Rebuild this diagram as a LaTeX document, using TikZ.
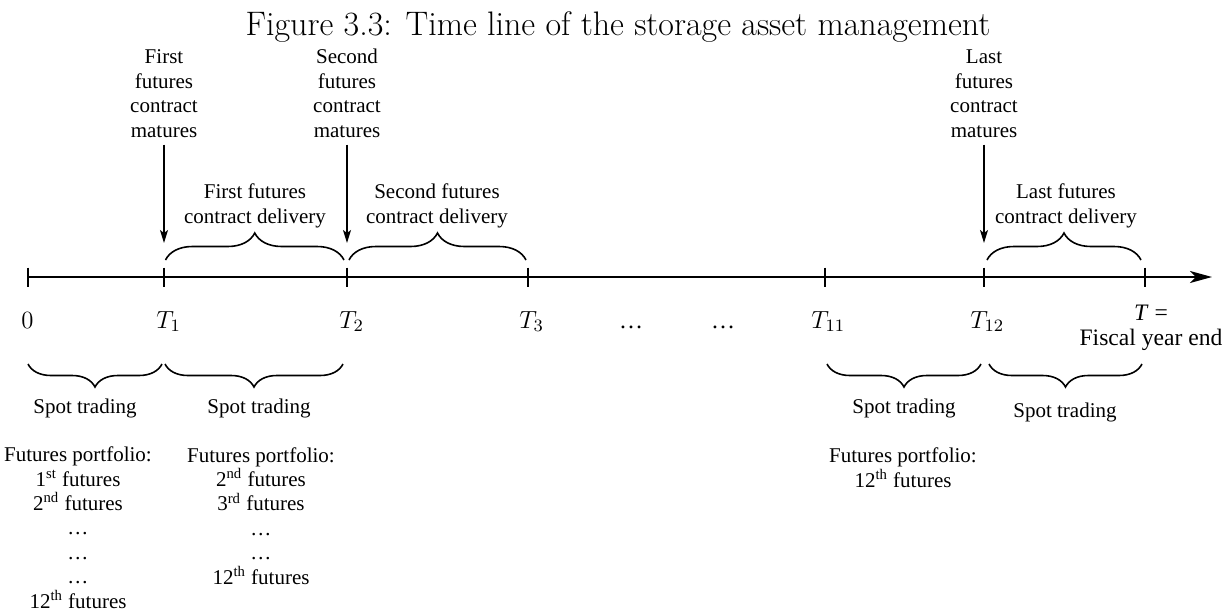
\RequirePackage{fix-cm}
\documentclass[tikz,border=0pt]{standalone}
\usepackage{fontspec}
\newfontfamily\tnr{Liberation Serif}
\usetikzlibrary{arrows.meta,decorations.pathreplacing}

\begin{document}
\begin{tikzpicture}[x=0.5pt,y=-0.5pt,
  every node/.style={inner sep=0pt},
  % multi-line nodes: the base anchor sits on the last line
  body/.style={font=\tnr\fontsize{10.5}{12.2}\selectfont, align=center, anchor=base},
  matlbl/.style={body, inner ysep=3.5pt},
  axlbl/.style={font=\fontsize{12.4}{14}\selectfont, anchor=base west},
  big/.style={font=\tnr\fontsize{12}{12.5}\selectfont, align=center, anchor=base},
  axisline/.style={line width=1pt, -{Stealth[length=11pt,width=6pt,inset=3pt]}},
  tickmark/.style={line width=1pt},
  matarrow/.style={line width=0.75pt, -{Stealth[length=6.5pt,width=4pt,inset=1.5pt]}},
  bracetop/.style={decorate, decoration={brace, amplitude=13.5pt}, line width=0.8pt},
  bracebot/.style={decorate, decoration={brace, amplitude=11.5pt, mirror}, line width=0.8pt},
]
\useasboundingbox (0,0) rectangle (1223,611);

% caption
\node[font=\fontsize{17}{20}\selectfont, anchor=base] (title) at (618,35)
  {Figure 3.3: Time line of the storage asset management};

% time axis and its ticks
\coordinate (t0)  at (27.5,277);
\coordinate (t1)  at (164,277);
\coordinate (t2)  at (347,277);
\coordinate (t3)  at (528,277);
\coordinate (t11) at (825,277);
\coordinate (t12) at (984,277);
\coordinate (tT)  at (1145,277);
\coordinate (tend) at (1212,277);
\draw[axisline] (t0) -- (tend);
\foreach \c in {t0,t1,t2,t3,t11,t12,tT}
  \draw[tickmark] ([yshift=4.75pt]\c) -- ([yshift=-4.75pt]\c);

% axis labels
\node[axlbl, anchor=base] (l0) at (27.5,328) {$0$};
\node[axlbl] (l1)  at (156,328) {$T_1$};
\node[axlbl] (l2)  at (339,328) {$T_2$};
\node[axlbl] (l3)  at (519,328) {$T_3$};
\node[big] (e1) at (631,328) {…};
\node[big] (e2) at (723,328) {…};
\node[axlbl] (l11) at (811,328) {$T_{11}$};
\node[axlbl] (l12) at (970,328) {$T_{12}$};
\node[big, font=\tnr\fontsize{11.8}{12.5}\selectfont] (lT) at (1151,345) {\textit{T} =\\Fiscal year end};

% maturity labels and arrows
\node[matlbl] (m1) at (164,137) {First\\futures\\contract\\matures};
\node[matlbl] (m2) at (347,137) {Second\\futures\\contract\\matures};
\node[matlbl] (m3) at (984,137) {Last\\futures\\contract\\matures};
\coordinate (a1) at (164,243);
\coordinate (a2) at (347,243);
\coordinate (a3) at (984,243);
\draw[matarrow] (m1.south) -- (a1);
\draw[matarrow] (m2.south) -- (a2);
\draw[matarrow] (m3.south) -- (a3);

% delivery periods
\draw[bracetop] (165.5,260) -- (344,260);
\draw[bracetop] (349,260) -- (526,260);
\draw[bracetop] (987,260) -- (1141,260);
\node[body] (d1) at (255,223) {First futures\\contract delivery};
\node[body] (d2) at (437,223) {Second futures\\contract delivery};
\node[body] (d3) at (1066,223) {Last futures\\contract delivery};

% spot trading periods
\draw[bracebot] (28,364) -- (162,364);
\draw[bracebot] (165,364) -- (343,364);
\draw[bracebot] (827,364) -- (981,364);
\draw[bracebot] (989,364) -- (1142,364);
\node[body] (s1) at (85,413) {Spot trading};
\node[body] (s2) at (259,413) {Spot trading};
\node[body] (s3) at (904,413) {Spot trading};
\node[body] (s4) at (1065,417) {Spot trading};

% futures held in each period
\node[body] (p1) at (78,608) {Futures portfolio:\\1\textsuperscript{st} futures\\2\textsuperscript{nd} futures\\…\\…\\…\\12\textsuperscript{th} futures};
\node[body] (p2) at (261,584) {Futures portfolio:\\2\textsuperscript{nd} futures\\3\textsuperscript{rd} futures\\…\\…\\12\textsuperscript{th} futures};
\node[body] (p3) at (903,487) {Futures portfolio:\\12\textsuperscript{th} futures};
\end{tikzpicture}
\end{document}
